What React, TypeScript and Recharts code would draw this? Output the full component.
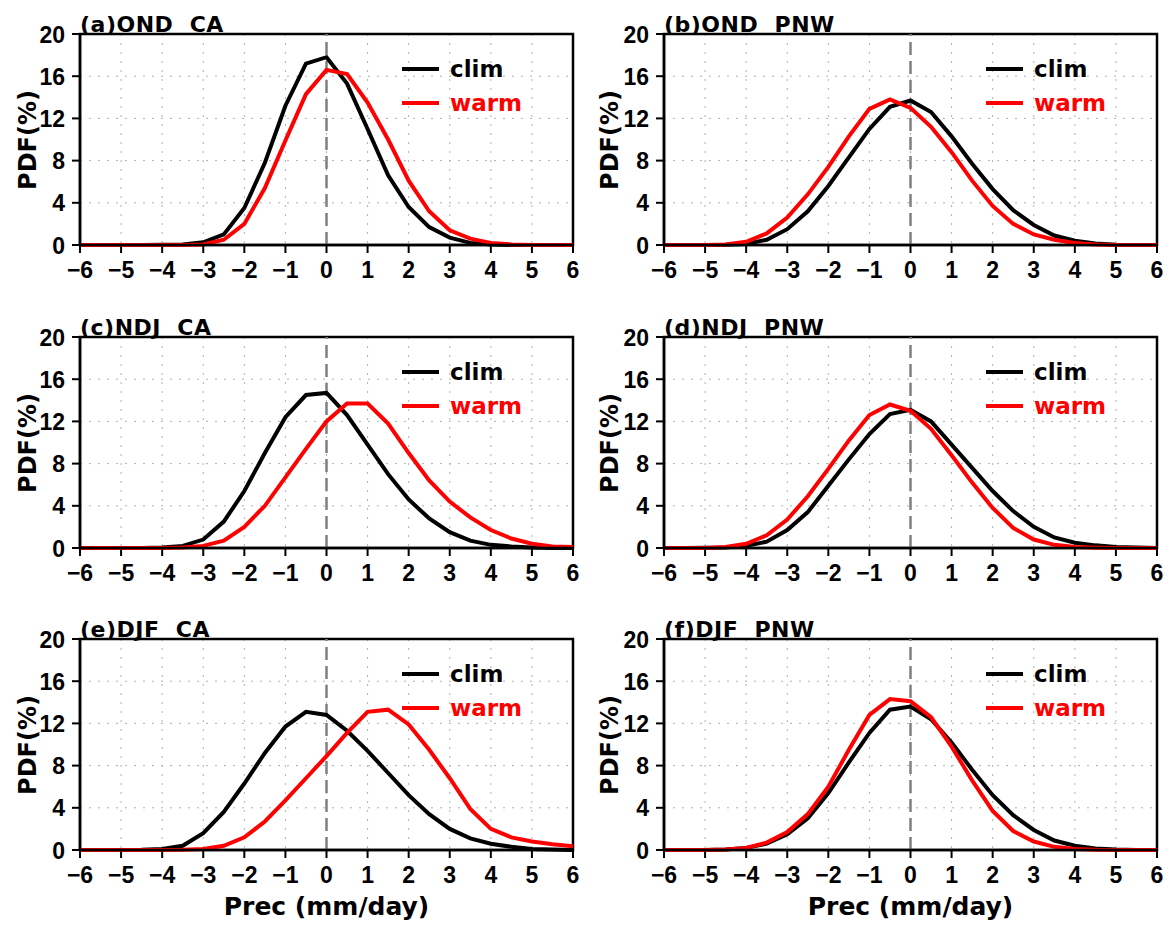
import React from 'react';
import {
  LineChart,
  Line,
  XAxis,
  YAxis,
  CartesianGrid,
  ReferenceLine,
  ReferenceArea,
} from 'recharts';

// Precipitation anomaly bins (mm/day)
const xBins = [-6, -5.5, -5, -4.5, -4, -3.5, -3, -2.5, -2, -1.5, -1, -0.5, 0, 0.5, 1, 1.5, 2, 2.5, 3, 3.5, 4, 4.5, 5, 5.5, 6];
const xTicks = [-6, -5, -4, -3, -2, -1, 0, 1, 2, 3, 4, 5, 6];
const yTicks = [0, 4, 8, 12, 16, 20];

// (a) OND CA
const aClim = [0, 0, 0, 0, 0.02, 0.05, 0.25, 1.0, 3.5, 7.8, 13.2, 17.2, 17.8, 15.3, 11.0, 6.6, 3.6, 1.7, 0.7, 0.2, 0.05, 0, 0, 0, 0];
const aWarm = [0, 0, 0, 0, 0, 0, 0.05, 0.5, 2.0, 5.4, 9.9, 14.3, 16.6, 16.2, 13.5, 10.0, 6.1, 3.2, 1.4, 0.6, 0.2, 0.05, 0, 0, 0];
// (b) OND PNW
const bClim = [0, 0, 0, 0.02, 0.1, 0.5, 1.5, 3.2, 5.6, 8.3, 11.0, 13.1, 13.7, 12.6, 10.3, 7.7, 5.3, 3.3, 1.9, 0.9, 0.4, 0.15, 0.03, 0, 0];
const bWarm = [0, 0, 0, 0.05, 0.3, 1.1, 2.6, 4.8, 7.4, 10.3, 12.9, 13.8, 13.0, 11.2, 8.8, 6.1, 3.7, 2.0, 1.0, 0.5, 0.2, 0.05, 0, 0, 0];
// (c) NDJ CA
const cClim = [0, 0, 0, 0, 0.05, 0.2, 0.8, 2.5, 5.4, 9.0, 12.4, 14.5, 14.7, 12.6, 9.8, 7.0, 4.6, 2.8, 1.5, 0.7, 0.3, 0.15, 0.05, 0, 0];
const cWarm = [0, 0, 0, 0, 0, 0.05, 0.2, 0.7, 2.0, 4.0, 6.7, 9.4, 12.0, 13.7, 13.7, 11.8, 9.0, 6.4, 4.4, 2.9, 1.7, 0.9, 0.4, 0.15, 0.1];
// (d) NDJ PNW
const dClim = [0, 0, 0.02, 0.05, 0.2, 0.6, 1.7, 3.4, 5.9, 8.4, 10.8, 12.7, 13.1, 12.0, 9.8, 7.6, 5.4, 3.5, 2.0, 1.0, 0.5, 0.25, 0.1, 0.05, 0];
const dWarm = [0, 0, 0, 0.1, 0.4, 1.2, 2.7, 4.9, 7.5, 10.2, 12.6, 13.6, 13.0, 11.3, 8.8, 6.2, 3.8, 1.9, 0.8, 0.3, 0.1, 0.03, 0, 0, 0];
// (e) DJF CA
const eClim = [0, 0, 0, 0.02, 0.1, 0.4, 1.6, 3.6, 6.3, 9.2, 11.7, 13.1, 12.8, 11.3, 9.4, 7.3, 5.2, 3.4, 2.0, 1.1, 0.6, 0.3, 0.1, 0.05, 0];
const eWarm = [0, 0, 0, 0, 0, 0.02, 0.1, 0.4, 1.2, 2.7, 4.7, 6.8, 8.9, 11.1, 13.1, 13.3, 11.9, 9.5, 6.8, 3.9, 2.0, 1.2, 0.8, 0.55, 0.35];
// (f) DJF PNW
const fClim = [0, 0, 0, 0.05, 0.2, 0.6, 1.5, 3.0, 5.4, 8.3, 11.1, 13.3, 13.6, 12.4, 10.2, 7.6, 5.2, 3.3, 1.9, 0.9, 0.4, 0.15, 0.05, 0, 0];
const fWarm = [0, 0, 0, 0.05, 0.2, 0.7, 1.7, 3.4, 6.0, 9.5, 12.8, 14.3, 14.1, 12.6, 9.8, 6.6, 3.7, 1.8, 0.8, 0.3, 0.1, 0.02, 0, 0, 0];

const titles = ['(a)OND  CA', '(b)OND  PNW', '(c)NDJ  CA', '(d)NDJ  PNW', '(e)DJF  CA', '(f)DJF  PNW'];
const climSeries = [aClim, bClim, cClim, dClim, eClim, fClim];
const warmSeries = [aWarm, bWarm, cWarm, dWarm, eWarm, fWarm];
const seriesNames = ['clim', 'warm'];
const xLabel = 'Prec (mm/day)';
const yLabel = 'PDF(%)';

const ROW_TOPS = [34, 337, 639];
const PLOT_H = 211;
const COLS = [
  { chartLeft: 0, chartW: 590, plotLeft: 80, plotRight: 573 },
  { chartLeft: 590, chartW: 585, plotLeft: 664, plotRight: 1157 },
];
const Y_AXIS_W = 45;
const X_AXIS_H = 30;
const CHART_H = 300;

const TICK_FONT = "'Liberation Sans', Arial, sans-serif";
const LABEL_FONT = "'DejaVu Sans', sans-serif";

const fmt = (v: number) => (v < 0 ? '\u2212' + Math.abs(v) : String(v));

const XTick = (props: any) => {
  const { x, y, payload } = props;
  return (
    <text x={x} y={y} dy={17} textAnchor="middle" fontFamily={TICK_FONT} fontSize={23} fontWeight="bold" fill="#000">
      {fmt(payload.value)}
    </text>
  );
};

const YTick = (props: any) => {
  const { x, y, payload } = props;
  return (
    <text x={x} y={y} dy={8.5} textAnchor="end" fontFamily={TICK_FONT} fontSize={23} fontWeight="bold" fill="#000">
      {fmt(payload.value)}
    </text>
  );
};

function Panel({ idx }: { idx: number }) {
  const row = Math.floor(idx / 2);
  const col = COLS[idx % 2];
  const top = ROW_TOPS[row];
  const data = xBins.map((x, i) => ({ x, clim: climSeries[idx][i], warm: warmSeries[idx][i] }));
  const chartTop = top - 34;
  const mLeft = col.plotLeft - col.chartLeft - Y_AXIS_W;
  const mRight = col.chartLeft + col.chartW - col.plotRight;
  const mBottom = CHART_H - 34 - PLOT_H - X_AXIS_H;
  const plotCenterX = (col.plotLeft + col.plotRight) / 2;
  return (
    <>
      <div style={{ position: 'absolute', left: col.chartLeft, top: chartTop }}>
        <LineChart
          width={col.chartW}
          height={CHART_H}
          data={data}
          margin={{ top: 34, right: mRight, bottom: mBottom, left: mLeft }}
        >
          <CartesianGrid stroke="#b0b0b0" strokeDasharray="2 7" strokeWidth={1} />
          <XAxis
            dataKey="x"
            type="number"
            domain={[-6, 6]}
            ticks={xTicks}
            height={X_AXIS_H}
            tickSize={8}
            tickMargin={8}
            tick={<XTick />}
            axisLine={{ stroke: '#000', strokeWidth: 2.5 }}
            tickLine={{ stroke: '#000', strokeWidth: 2 }}
            interval={0}
          />
          <YAxis
            type="number"
            domain={[0, 20]}
            ticks={yTicks}
            width={Y_AXIS_W}
            tickSize={8}
            tickMargin={7}
            tick={<YTick />}
            axisLine={{ stroke: '#000', strokeWidth: 2.5 }}
            tickLine={{ stroke: '#000', strokeWidth: 2 }}
            interval={0}
          />
          <ReferenceArea x1={-6} x2={6} y1={0} y2={20} fill="none" fillOpacity={0} stroke="#000" strokeWidth={2.5} />
          <ReferenceLine x={0} stroke="#808080" strokeWidth={2.5} strokeDasharray="13 6" />
          <Line type="linear" dataKey="clim" stroke="#000" strokeWidth={4} dot={false} isAnimationActive={false} />
          <Line type="linear" dataKey="warm" stroke="#ff0000" strokeWidth={4} dot={false} isAnimationActive={false} />
        </LineChart>
      </div>
      {/* title */}
      <div
        style={{
          position: 'absolute',
          left: col.plotLeft,
          top: top - 20,
          fontFamily: LABEL_FONT,
          fontWeight: 'bold',
          fontSize: 22,
          lineHeight: '22px',
          letterSpacing: 0.5,
          whiteSpace: 'pre',
          color: '#000',
        }}
      >
        {titles[idx]}
      </div>
      {/* y label */}
      <div
        style={{
          position: 'absolute',
          left: col.chartLeft + (idx % 2 === 0 ? 28 : 20) - 60,
          top: top + PLOT_H / 2 - 13,
          width: 120,
          height: 26,
          lineHeight: '26px',
          textAlign: 'center',
          transform: 'rotate(-90deg)',
          fontFamily: LABEL_FONT,
          fontWeight: 'bold',
          fontSize: 24,
          color: '#000',
        }}
      >
        {yLabel}
      </div>
      {/* legend */}
      {seriesNames.map((name, k) => (
        <div
          key={name}
          style={{
            position: 'absolute',
            left: col.plotLeft + 322,
            top: top + 35 + k * 34 - 14,
            height: 28,
            display: 'flex',
            alignItems: 'center',
          }}
        >
          <div style={{ width: 37, height: 4, background: k === 0 ? '#000' : '#ff0000' }} />
          <div
            style={{
              marginLeft: 11,
              fontFamily: LABEL_FONT,
              fontWeight: 'bold',
              fontSize: 23,
              lineHeight: '28px',
              color: k === 0 ? '#000' : '#ff0000',
            }}
          >
            {name}
          </div>
        </div>
      ))}
      {/* x label on bottom row */}
      {row === 2 && (
        <div
          style={{
            position: 'absolute',
            left: plotCenterX - 150,
            top: 893,
            width: 300,
            textAlign: 'center',
            fontFamily: LABEL_FONT,
            fontWeight: 'bold',
            fontSize: 25,
            lineHeight: '28px',
            color: '#000',
          }}
        >
          {xLabel}
        </div>
      )}
    </>
  );
}

export default function App() {
  return (
    <div style={{ position: 'absolute', left: 0, top: 0, width: 1175, height: 925, background: '#fff', overflow: 'hidden' }}>
      {[0, 1, 2, 3, 4, 5].map((i) => (
        <Panel key={i} idx={i} />
      ))}
    </div>
  );
}
